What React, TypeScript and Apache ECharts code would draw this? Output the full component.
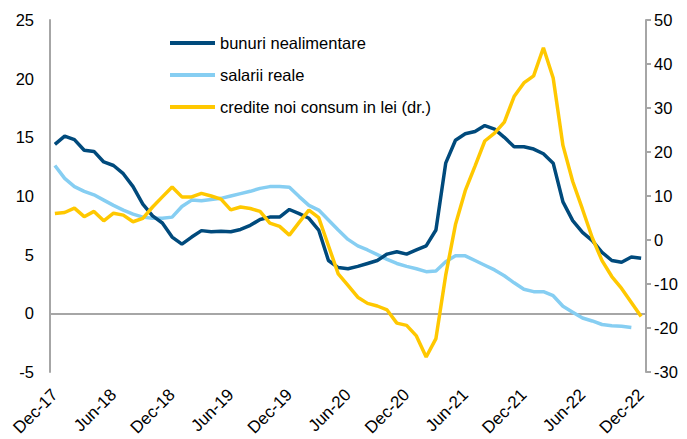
import React, { useEffect, useRef } from "react";
import * as echarts from "echarts";

const categories = [
  "Dec-17", "Jan-18", "Feb-18", "Mar-18", "Apr-18", "May-18", "Jun-18", "Jul-18", "Aug-18", "Sep-18", "Oct-18", "Nov-18",
  "Dec-18", "Jan-19", "Feb-19", "Mar-19", "Apr-19", "May-19", "Jun-19", "Jul-19", "Aug-19", "Sep-19", "Oct-19", "Nov-19",
  "Dec-19", "Jan-20", "Feb-20", "Mar-20", "Apr-20", "May-20", "Jun-20", "Jul-20", "Aug-20", "Sep-20", "Oct-20", "Nov-20",
  "Dec-20", "Jan-21", "Feb-21", "Mar-21", "Apr-21", "May-21", "Jun-21", "Jul-21", "Aug-21", "Sep-21", "Oct-21", "Nov-21",
  "Dec-21", "Jan-22", "Feb-22", "Mar-22", "Apr-22", "May-22", "Jun-22", "Jul-22", "Aug-22", "Sep-22", "Oct-22", "Nov-22",
  "Dec-22",
];

const bunuriNealimentare = [
  14.4, 15.1, 14.8, 13.9, 13.8, 12.9, 12.6, 11.9, 10.8, 9.3,
  8.3, 7.7, 6.5, 5.9, 6.5, 7.05, 6.95, 7.0, 6.95, 7.15,
  7.5, 8.0, 8.2, 8.2, 8.85, 8.5, 8.1, 7.1, 4.5, 3.9,
  3.8, 4.0, 4.25, 4.5, 5.05, 5.25, 5.05, 5.4, 5.75, 7.1,
  12.8, 14.75, 15.3, 15.5, 16.0, 15.7, 15.0, 14.2, 14.2, 14.0,
  13.6, 12.8, 9.5, 7.9, 6.9, 6.2, 5.2, 4.5, 4.35, 4.8,
  4.7,
];

const salariiReale = [
  12.6, 11.5, 10.8, 10.4, 10.1, 9.65, 9.2, 8.8, 8.45, 8.2,
  8.1, 8.1, 8.2, 9.1, 9.65, 9.6, 9.7, 9.8, 10.0, 10.2,
  10.4, 10.65, 10.8, 10.8, 10.75, 9.95, 9.2, 8.8, 7.95, 7.1,
  6.3, 5.75, 5.4, 5.0, 4.6, 4.25, 4.0, 3.8, 3.55, 3.6,
  4.4, 4.9, 4.9, 4.5, 4.1, 3.7, 3.2, 2.6, 2.05, 1.85,
  1.85, 1.5, 0.6, 0.1, -0.4, -0.65, -0.95, -1.05, -1.1, -1.2,
  null,
];

const crediteNoiConsum = [
  6.0, 6.25, 7.25, 5.3, 6.5, 4.35, 6.1, 5.65, 4.15, 4.9,
  7.5, 9.8, 12.05, 9.8, 9.8, 10.6, 10.0, 9.3, 6.85, 7.5,
  7.15, 6.5, 3.85, 3.1, 1.1, 4.0, 6.8, 5.1, -1.3, -7.7,
  -10.3, -13.0, -14.4, -15.0, -15.9, -18.9, -19.4, -21.8, -26.6, -22.4,
  -8.0, 3.5, 11.2, 16.8, 22.5, 24.3, 26.8, 32.6, 35.7, 37.3,
  43.7, 36.8, 21.5, 13.3, 7.0, 0.5, -4.7, -8.3, -11.0, -14.2,
  -17.4,
];

const seriesNames = ["bunuri nealimentare", "salarii reale", "credite noi consum in lei (dr.)"];

const FONT = "'Liberation Sans', Arial, sans-serif";

export default function App() {
  const ref = useRef<HTMLDivElement>(null);

  useEffect(() => {
    if (!ref.current) return;
    const chart = echarts.init(ref.current, null, { renderer: "svg" });
    const lineW = 3.5;
    chart.setOption({
      animation: false,
      backgroundColor: "#ffffff",
      textStyle: { fontFamily: FONT },
      grid: { left: 50, right: 41, top: 20, bottom: 67, containLabel: false },
      legend: {
        orient: "vertical",
        left: 170,
        top: 34,
        padding: 0,
        icon: "rect",
        itemWidth: 45,
        itemHeight: 4,
        itemGap: 14,
        data: seriesNames,
        textStyle: { fontSize: 16.5, color: "#000", fontFamily: FONT, lineHeight: 18 },
      },
      xAxis: {
        type: "category",
        data: categories,
        boundaryGap: true,
        axisLine: { show: false },
        axisTick: { show: false },
        splitLine: { show: false },
        axisLabel: {
          interval: 5,
          rotate: 45,
          margin: 20,
          fontSize: 17,
          color: "#000",
          fontFamily: FONT,
        },
      },
      yAxis: [
        {
          type: "value",
          min: -5,
          max: 25,
          interval: 5,
          position: "left",
          axisLine: { show: true, lineStyle: { color: "#a6a6a6", width: 2 } },
          axisTick: { show: false },
          splitLine: { show: false },
          axisLabel: { fontSize: 16.5, color: "#000", margin: 16, fontFamily: FONT },
        },
        {
          type: "value",
          min: -30,
          max: 50,
          interval: 10,
          position: "right",
          axisLine: { show: true, lineStyle: { color: "#a6a6a6", width: 2 } },
          axisTick: { show: true, length: 5, lineStyle: { color: "#a6a6a6", width: 2 } },
          splitLine: { show: false },
          axisLabel: { fontSize: 16.5, color: "#000", margin: 8, fontFamily: FONT },
        },
      ],
      series: [
        {
          name: seriesNames[0],
          type: "line",
          yAxisIndex: 0,
          data: bunuriNealimentare,
          symbol: "none",
          lineStyle: { color: "#004a7c", width: lineW },
          itemStyle: { color: "#004a7c" },
          z: 4,
          markLine: {
            silent: true,
            symbol: "none",
            label: { show: false },
            lineStyle: { color: "#a6a6a6", width: 2, type: "solid" },
            data: [{ yAxis: 0 }],
            z: 1,
          },
        },
        {
          name: seriesNames[1],
          type: "line",
          yAxisIndex: 0,
          data: salariiReale,
          symbol: "none",
          lineStyle: { color: "#86cef2", width: lineW },
          itemStyle: { color: "#86cef2" },
          z: 3,
        },
        {
          name: seriesNames[2],
          type: "line",
          yAxisIndex: 1,
          data: crediteNoiConsum,
          symbol: "none",
          lineStyle: { color: "#ffc800", width: lineW },
          itemStyle: { color: "#ffc800" },
          z: 5,
        },
      ],
    });
    return () => chart.dispose();
  }, []);

  return <div ref={ref} style={{ width: 687, height: 439, position: "absolute", left: 0, top: 0 }} />;
}
